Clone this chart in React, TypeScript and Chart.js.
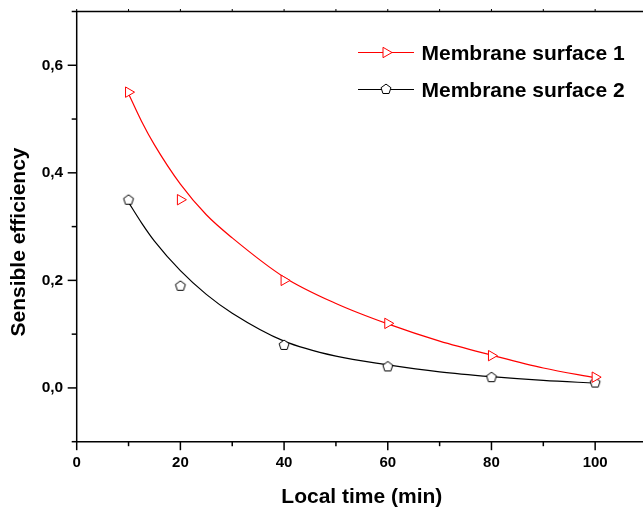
import React, { useEffect, useRef } from 'react';
import { Chart, registerables } from 'chart.js';

Chart.register(...registerables);

// ---- data ----
const timeMin = [10, 20, 40, 60, 80, 100];
const surface1 = [0.55, 0.35, 0.2, 0.12, 0.06, 0.02];
const surface2 = [0.35, 0.19, 0.08, 0.04, 0.02, 0.01];

// fitted curves
const fitTime = [10, 12.5, 15, 20, 25, 30, 40, 50, 60, 70, 80, 90, 100];
const fit1 = [0.547, 0.496, 0.452, 0.379, 0.322, 0.279, 0.206, 0.157, 0.119, 0.087, 0.061, 0.037, 0.019];
const fit2 = [0.345, 0.307, 0.273, 0.218, 0.174, 0.139, 0.087, 0.059, 0.043, 0.030, 0.021, 0.014, 0.009];

const seriesNames = ['Membrane surface 1', 'Membrane surface 2'];
const xTitle = 'Local time (min)';
const yTitle = 'Sensible efficiency';

const X_MIN = 0, X_MAX = 110, Y_MIN = -0.1, Y_MAX = 0.7;
const FONT = '"Liberation Sans", Arial, sans-serif';

function makePentagon(): HTMLCanvasElement {
  const c = document.createElement('canvas');
  c.width = 14; c.height = 14;
  const g = c.getContext('2d')!;
  g.beginPath();
  for (let k = 0; k < 5; k++) {
    const ang = -Math.PI / 2 + (k * 2 * Math.PI) / 5;
    const px = 7 + 5.2 * Math.cos(ang);
    const py = 7.3 + 5.2 * Math.sin(ang);
    if (k === 0) g.moveTo(px, py); else g.lineTo(px, py);
  }
  g.closePath();
  g.fillStyle = '#fff';
  g.fill();
  g.strokeStyle = '#000';
  g.lineWidth = 1;
  g.stroke();
  return c;
}

function drawTriangle(ctx: CanvasRenderingContext2D, x: number, y: number, r: number) {
  ctx.beginPath();
  ctx.moveTo(x + r, y);
  ctx.lineTo(x - 0.5 * r, y + 0.866 * r);
  ctx.lineTo(x - 0.5 * r, y - 0.866 * r);
  ctx.closePath();
  ctx.fillStyle = '#fff';
  ctx.fill();
  ctx.strokeStyle = '#ff0000';
  ctx.lineWidth = 1;
  ctx.stroke();
}

export default function App() {
  const ref = useRef<HTMLCanvasElement>(null);

  useEffect(() => {
    const canvas = ref.current!;
    const pent = makePentagon();

    const decor = {
      id: 'decor',
      afterDraw(chart: any) {
        const { ctx, chartArea: a, scales } = chart;
        const xs = scales.x, ys = scales.y;
        ctx.save();
        ctx.strokeStyle = '#000';
        ctx.lineWidth = 1.5;
        ctx.beginPath();
        ctx.moveTo(a.right + 20, a.top);
        ctx.lineTo(a.left, a.top);
        ctx.lineTo(a.left, a.bottom);
        ctx.lineTo(a.right + 20, a.bottom);
        ctx.stroke();

        // x ticks
        for (let k = 0; k * 10 <= X_MAX; k++) {
          const px = xs.getPixelForValue(k * 10);
          const major = k % 2 === 0;
          ctx.lineWidth = 1.5;
          ctx.beginPath();
          ctx.moveTo(px, a.bottom);
          ctx.lineTo(px, a.bottom + (major ? 8.5 : 4.5));
          ctx.stroke();
          ctx.lineWidth = 1;
          ctx.beginPath();
          ctx.moveTo(px, a.top);
          ctx.lineTo(px, a.top - 2.5);
          ctx.stroke();
        }
        // y ticks
        for (let k = -1; k <= 7; k++) {
          const py = ys.getPixelForValue(k / 10);
          const major = ((k % 2) + 2) % 2 === 0;
          ctx.lineWidth = 1.5;
          ctx.beginPath();
          ctx.moveTo(a.left, py);
          ctx.lineTo(a.left - (major ? 9 : 5), py);
          ctx.stroke();
        }

        // axis titles
        ctx.fillStyle = '#000';
        ctx.font = `bold 21px ${FONT}`;
        ctx.textAlign = 'center';
        ctx.textBaseline = 'alphabetic';
        ctx.fillText(xTitle, (a.left + a.right) / 2, 502.5);
        ctx.save();
        ctx.translate(25, 242);
        ctx.rotate(-Math.PI / 2);
        ctx.fillText(yTitle, 0, 0);
        ctx.restore();

        // legend
        const lx0 = 358, lx1 = 414, mx = 386, tx = 421.5;
        const rows = [
          { y: 52, color: '#ff0000', text: seriesNames[0], marker: 'tri' },
          { y: 89, color: '#000000', text: seriesNames[1], marker: 'pent' },
        ];
        for (const r of rows) {
          ctx.strokeStyle = r.color;
          ctx.lineWidth = 1;
          ctx.beginPath();
          ctx.moveTo(lx0, r.y + 0.5);
          ctx.lineTo(lx1, r.y + 0.5);
          ctx.stroke();
          if (r.marker === 'tri') drawTriangle(ctx, mx, r.y + 0.5, 6);
          else ctx.drawImage(pent, mx - 7, r.y - 7);
          ctx.fillStyle = '#000';
          ctx.font = `bold 21px ${FONT}`;
          ctx.textAlign = 'left';
          ctx.textBaseline = 'alphabetic';
          ctx.fillText(r.text, tx, r.y + 7.5);
        }
        ctx.restore();
      },
    };

    const chart = new Chart(canvas, {
      type: 'line',
      data: {
        datasets: [
          {
            label: seriesNames[0] + ' points',
            data: timeMin.map((t, i) => ({ x: t, y: surface1[i] })),
            showLine: false,
            pointStyle: 'triangle',
            rotation: 90,
            pointRadius: 6,
            pointBorderWidth: 1,
            pointBorderColor: '#ff0000',
            pointBackgroundColor: '#ffffff',
            order: 1,
          },
          {
            label: seriesNames[1] + ' points',
            data: timeMin.map((t, i) => ({ x: t, y: surface2[i] })),
            showLine: false,
            pointStyle: pent as any,
            pointRadius: 6,
            order: 2,
          },
          {
            label: seriesNames[0],
            data: fitTime.map((t, i) => ({ x: t, y: fit1[i] })),
            borderColor: '#ff0000',
            borderWidth: 1.2,
            pointRadius: 0,
            cubicInterpolationMode: 'monotone',
            fill: false,
            order: 3,
          },
          {
            label: seriesNames[1],
            data: fitTime.map((t, i) => ({ x: t, y: fit2[i] })),
            borderColor: '#000000',
            borderWidth: 1.2,
            pointRadius: 0,
            cubicInterpolationMode: 'monotone',
            fill: false,
            order: 4,
          },
        ],
      },
      options: {
        responsive: false,
        animation: false,
        devicePixelRatio: 1,
        layout: { padding: { left: 0, top: 11.5, right: 13, bottom: 0 } },
        plugins: { legend: { display: false }, tooltip: { enabled: false }, title: { display: false } },
        scales: {
          x: {
            type: 'linear',
            min: X_MIN,
            max: X_MAX,
            grid: { display: false, drawTicks: false },
            border: { display: false },
            ticks: {
              stepSize: 10,
              padding: 12,
              color: '#000',
              font: { family: FONT, size: 15, weight: 'bold' },
              maxRotation: 0,
              autoSkip: false,
              callback: (v: any) => {
                const n = Math.round(v);
                return n % 20 === 0 && n <= 100 ? String(n) : '';
              },
            },
            afterFit: (s: any) => { s.height = 66.3; s.paddingLeft = 0; s.paddingRight = 0; },
          },
          y: {
            type: 'linear',
            min: Y_MIN,
            max: Y_MAX,
            grid: { display: false, drawTicks: false },
            border: { display: false },
            ticks: {
              stepSize: 0.1,
              padding: 13.5,
              color: '#000',
              font: { family: FONT, size: 15.5, weight: 'bold' },
              autoSkip: false,
              callback: (v: any) => {
                const n = Math.round(v * 10);
                if (n < 0 || n > 6 || n % 2 !== 0) return '';
                return (n / 10).toFixed(1).replace('.', ',');
              },
            },
            afterFit: (s: any) => { s.width = 76.7; s.paddingTop = 0; s.paddingBottom = 0; },
          },
        },
      },
      plugins: [decor],
    } as any);

    return () => chart.destroy();
  }, []);

  return (
    <div style={{ position: 'fixed', left: 0, top: 0, width: 660, height: 508, background: '#fff' }}>
      <canvas ref={ref} width={660} height={508} />
    </div>
  );
}
